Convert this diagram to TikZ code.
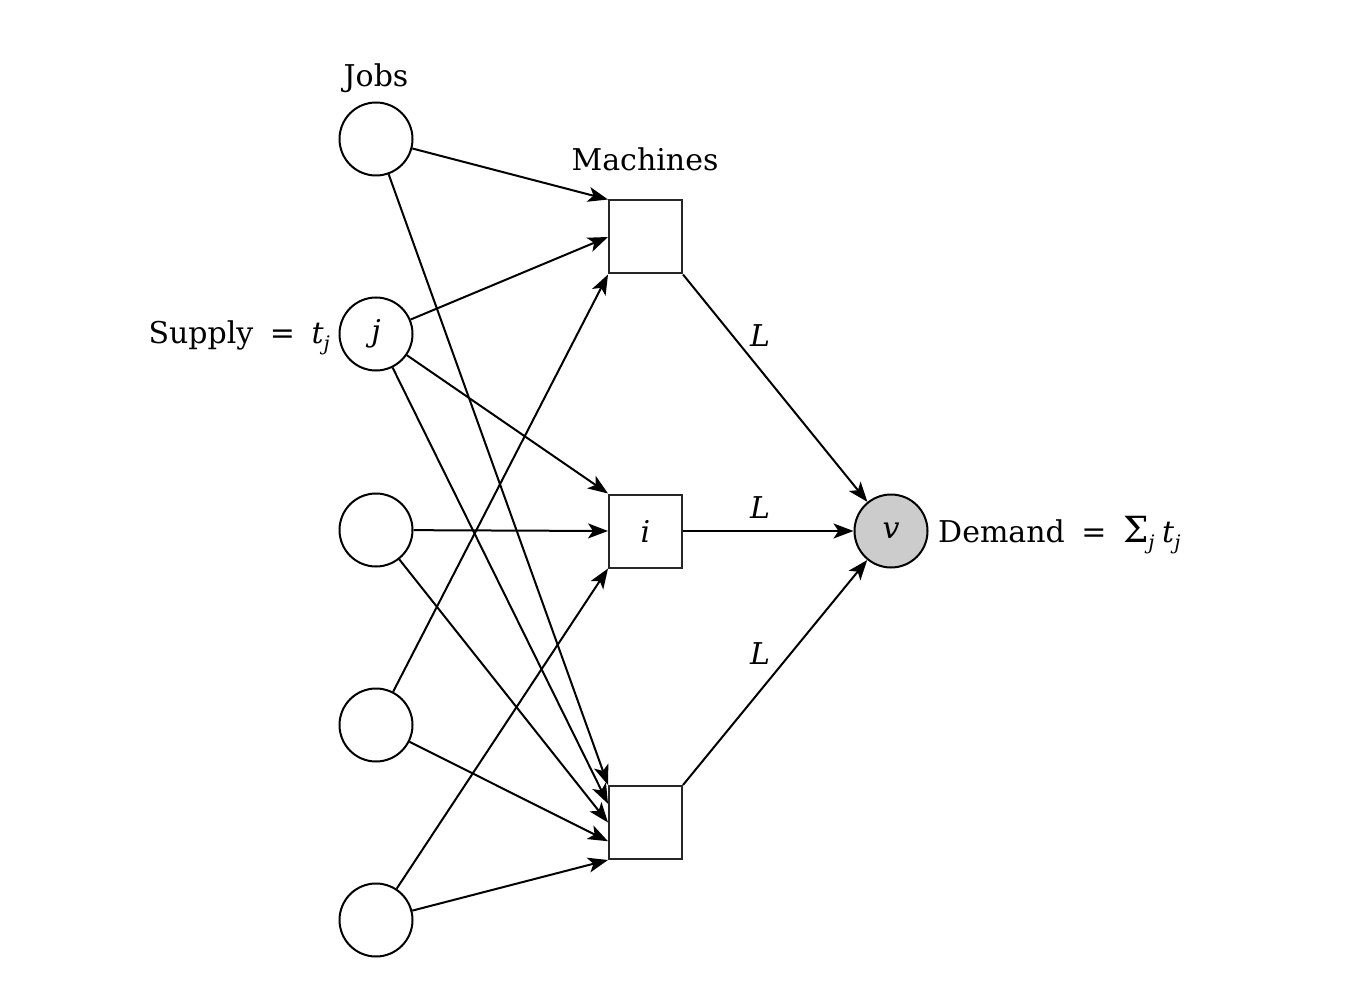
\documentclass[tikz,border=0pt]{standalone}
\usepackage{fontspec}
\setmainfont{DejaVu Serif}
\usetikzlibrary{arrows.meta,calc}
\newcommand{\mysub}[1]{\raisebox{-0.45ex}{\fontsize{20}{20}\selectfont\itshape #1}}
\begin{document}
\begin{tikzpicture}[x=1pt,y=-1pt,
  every node/.style={font=\fontsize{30}{30}\selectfont},
  job/.style={circle,draw,line width=2pt,minimum size=73pt,inner sep=0pt},
  mach/.style={rectangle,draw=black!85,line width=2pt,minimum size=73pt,inner sep=0pt},
  sink/.style={job,fill=black!20},
  edge/.style={line width=2pt,-{Stealth[length=20pt,width=15pt,inset=5pt]}},
  lbl/.style={inner sep=0pt}]
\useasboundingbox (0,0) rectangle (1349,1000);

% jobs
\node[job] (j1) at (376,139) {};
\node[job] (j2) at (376,334) {\itshape j};
\node[job] (j3) at (376,530) {};
\node[job] (j4) at (376,725) {};
\node[job] (j5) at (376,920) {};

% machines
\node[mach] (m1) at (645.5,237) {};
\node[mach] (m2) at (645.5,531) {\itshape i};
\node[mach] (m3) at (645.5,822.5) {};

% sink
\node[sink] (v) at (891,531) {\itshape v};

% headings
\node[lbl] (jobs) at (376,78) {Jobs};
\node[lbl] (machines) at (645,159) {Machines};
\node[lbl,anchor=east] (supply) at (330,338) {Supply\hspace{0.55em}=\hspace{0.55em}\textit{t}\mysub{j}};
\node[lbl,anchor=west] (demand) at (938,535) {Demand\hspace{0.55em}=\hspace{0.55em}{\fontsize{36}{36}\selectfont Σ}\mysub{j}\hspace{0.25em}\textit{t}\mysub{j}};

% anchor points on m3
\coordinate (m3a) at ($(m3.north west)!0.25!(m3.south west)$);
\coordinate (m3c) at ($(m3.north west)!0.75!(m3.south west)$);

% job -> machine edges
\draw[edge] (j1) -- (m1.north west);
\draw[edge] (j1) -- (m3.north west);
\draw[edge] (j2) -- (m1.west);
\draw[edge] (j2) -- (m2.north west);
\draw[edge] (j2) -- (m3a);
\draw[edge] (j3) -- (m2.west);
\draw[edge] (j3) -- (m3.west);
\draw[edge] (j4) -- (m1.south west);
\draw[edge] (j4) -- (m3c);
\draw[edge] (j5) -- (m2.south west);
\draw[edge] (j5) -- (m3.south west);

% machine -> sink edges
\draw[edge] (m1.south east) -- (v);
\draw[edge] (m2.east) -- (v.west);
\draw[edge] (m3.north east) -- (v);

% L labels
\node[lbl] (l1) at (760,336) {\itshape L};
\node[lbl] (l2) at (760,508) {\itshape L};
\node[lbl] (l3) at (760,654) {\itshape L};
\end{tikzpicture}
\end{document}
